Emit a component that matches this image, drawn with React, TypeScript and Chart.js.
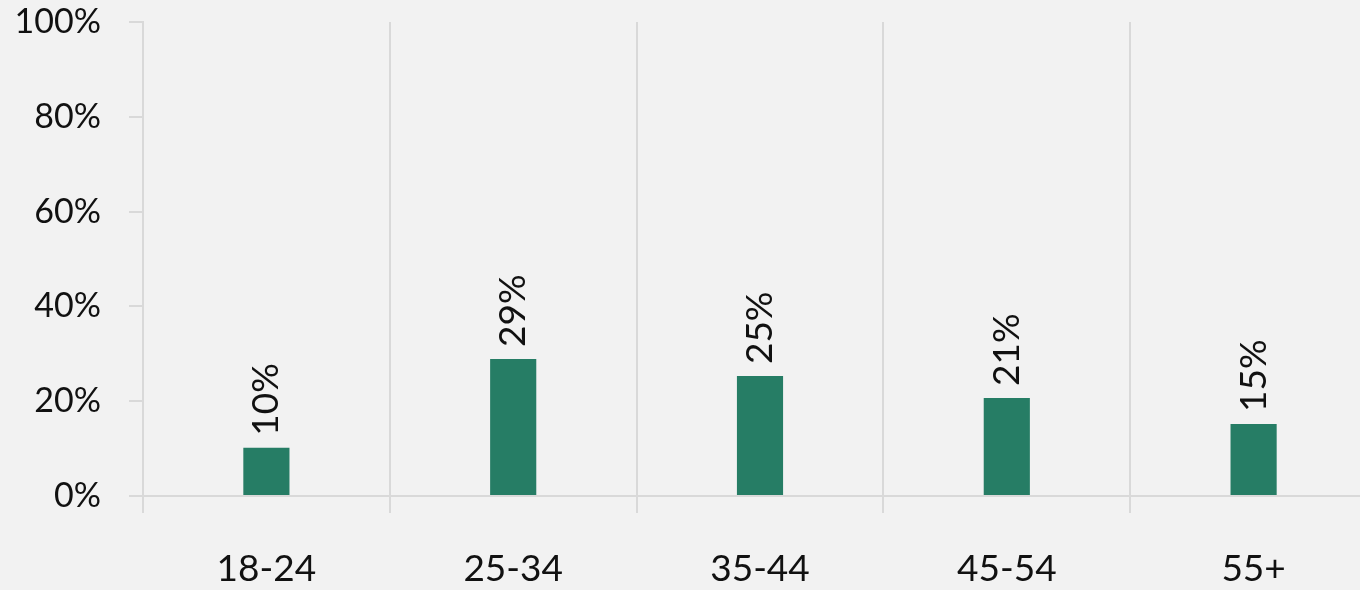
import React, { useEffect, useRef } from "react";
import { Chart, registerables } from "chart.js";
Chart.register(...registerables);

const categories = ["18-24", "25-34", "35-44", "45-54", "55+"];
const shares = [10.2, 28.9, 25.3, 20.7, 15.2];
const yTicks = [0, 20, 40, 60, 80, 100];

const FONT = "Lato, 'Open Sans', sans-serif";
const WEIGHT = "400";

const barLabels = {
  id: "barLabels",
  afterDatasetsDraw(chart: any) {
    const ctx = chart.ctx;
    const meta = chart.getDatasetMeta(0);
    ctx.save();
    ctx.fillStyle = "#111";
    ctx.font = `${WEIGHT} 37px ${FONT}`;
    ctx.textAlign = "left";
    ctx.textBaseline = "middle";
    meta.data.forEach((el: any, i: number) => {
      ctx.save();
      ctx.translate(el.x, el.y - 12);
      ctx.rotate(-Math.PI / 2);
      ctx.fillText(Math.round(shares[i]) + "%", 0, 0);
      ctx.restore();
    });
    ctx.restore();
  },
};

export default function App() {
  const ref = useRef<HTMLCanvasElement>(null);
  useEffect(() => {
    const chart = new Chart(ref.current!, {
      type: "bar",
      data: {
        labels: categories,
        datasets: [
          {
            data: shares,
            backgroundColor: "#267d65",
            barPercentage: 0.187,
            categoryPercentage: 1,
          },
        ],
      },
      options: {
        animation: false,
        responsive: false,
        layout: { padding: { top: 0, right: 3, left: 0, bottom: 0 } },
        plugins: { legend: { display: false }, tooltip: { enabled: false } },
        scales: {
          x: {
            offset: true,
            grid: {
              offset: true,
              color: "#d9d9d9",
              lineWidth: 2,
              tickLength: 17,
            },
            border: { color: "#d9d9d9", width: 2 },
            ticks: { color: "#111", font: { family: FONT, size: 37, weight: WEIGHT }, padding: 34 },
            afterFit: (s: any) => {
              s.height = 94;
            },
          },
          y: {
            min: 0,
            max: 100,
            afterBuildTicks: (s: any) => {
              s.ticks = yTicks.map((v) => ({ value: v }));
            },
            grid: {
              drawOnChartArea: false,
              color: "#d9d9d9",
              lineWidth: 2,
              tickLength: 14,
            },
            border: { color: "#d9d9d9", width: 2 },
            ticks: {
              color: "#111",
              font: { family: FONT, size: 34, weight: WEIGHT },
              padding: 28,
              callback: (v: any) => v + "%",
            },
            afterFit: (s: any) => {
              s.width = 143;
              s.paddingTop = 22;
              s.paddingBottom = 0;
            },
          },
        },
      },
      plugins: [barLabels],
    });
    return () => chart.destroy();
  }, []);
  return (
    <div
      style={{
        position: "fixed",
        left: 0,
        top: 0,
        width: 1360,
        height: 590,
        overflow: "hidden",
        background: "#f2f2f2",
      }}
    >
      <canvas ref={ref} width={1380} height={590} style={{ display: "block" }} />
    </div>
  );
}
